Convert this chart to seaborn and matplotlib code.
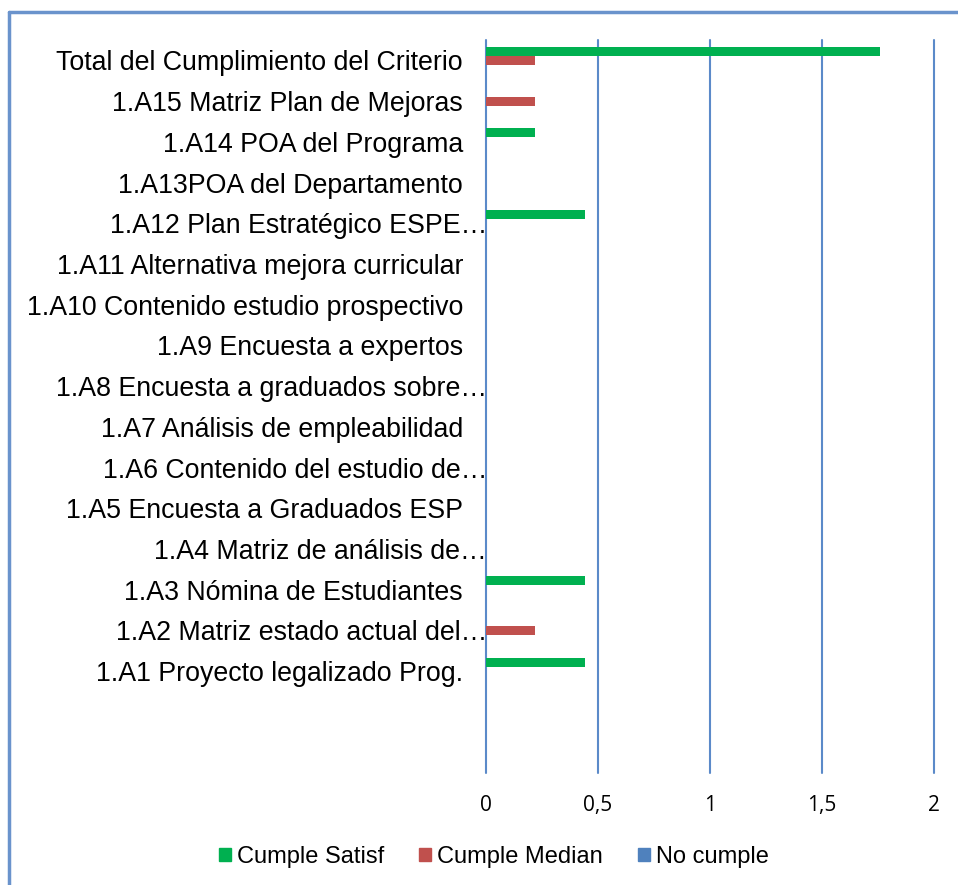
import pandas as pd
import matplotlib.pyplot as plt
import seaborn as sns
from matplotlib.patches import Rectangle
from matplotlib.transforms import ScaledTranslation

categorias = [
    "Total del Cumplimiento del Criterio",
    "1.A15 Matriz Plan de Mejoras",
    "1.A14 POA del Programa",
    "1.A13POA del Departamento",
    "1.A12 Plan Estratégico ESPE…",
    "1.A11 Alternativa mejora curricular",
    "1.A10 Contenido estudio prospectivo",
    "1.A9 Encuesta a expertos",
    "1.A8 Encuesta a graduados sobre…",
    "1.A7 Análisis de empleabilidad",
    "1.A6 Contenido del estudio de…",
    "1.A5 Encuesta a Graduados ESP",
    "1.A4 Matriz de análisis de…",
    "1.A3 Nómina de Estudiantes",
    "1.A2 Matriz estado actual del…",
    "1.A1 Proyecto legalizado Prog.",
    " ",
    "  ",
]
cumple_satisf = [1.76, 0, 0.22, 0, 0.44, 0, 0, 0, 0, 0, 0, 0, 0, 0.44, 0, 0.44, 0, 0]
cumple_median = [0.22, 0.22, 0, 0, 0, 0, 0, 0, 0, 0, 0, 0, 0, 0, 0.22, 0, 0, 0]
no_cumple = [0] * 18
series = ["Cumple Satisf", "Cumple Median", "No cumple"]
colores = ["#00B050", "#C0504D", "#4F81BD"]

df = pd.DataFrame({
    "cat": categorias * 3,
    "valor": cumple_satisf + cumple_median + no_cumple,
    "serie": [series[0]] * 18 + [series[1]] * 18 + [series[2]] * 18,
})

sns.set_style("white")
plt.rcParams["font.family"] = ["Liberation Sans", "DejaVu Sans"]
plt.rcParams["text.color"] = "black"
plt.rcParams["xtick.color"] = "black"
plt.rcParams["ytick.color"] = "black"

fig = plt.figure(figsize=(9.58, 8.85), dpi=100)
ax = fig.add_axes([486 / 958, 1 - 773 / 885, (934 - 486) / 958, (773 - 40) / 885])

sns.barplot(data=df, y="cat", x="valor", hue="serie", order=categorias,
            hue_order=series, palette=colores, orient="h", width=0.66,
            ax=ax, legend=False, saturation=1, linewidth=0)

ax.set_xlim(0, 2)
ax.set_ylim(len(categorias) - 0.5, -0.5)
ax.set_xticks([0, 0.5, 1, 1.5, 2])
ax.set_xticklabels(["0", "0,5", "1", "1,5", "2"], fontsize=15, family="Open Sans")
ax.tick_params(axis="x", length=0, pad=16)
ax.tick_params(axis="y", length=0, pad=16.5, labelsize=19.3)
ax.set_xlabel("")
ax.set_ylabel("")
for s in ax.spines.values():
    s.set_visible(False)
ax.xaxis.grid(True, color="#5B8AC9", linewidth=1.5)
for gl in ax.get_xgridlines():
    gl.set_clip_on(False)
ax.set_axisbelow(True)

# truncated labels run past the axis a little
for lab in ax.get_yticklabels():
    if lab.get_text().endswith("…"):
        lab.set_transform(lab.get_transform() + ScaledTranslation(0.24, 0, fig.dpi_scale_trans))

handles = [Rectangle((0, 0), 1, 1, color=c) for c in colores]
fig.legend(handles, series, loc="center", bbox_to_anchor=(494 / 958, 1 - 857 / 885),
           ncol=3, frameon=False, fontsize=17, handlelength=0.5, handleheight=0.5,
           handletextpad=0.25, columnspacing=1.5)

fig.add_artist(plt.Line2D([9 / 958, 9 / 958], [0, 1 - 12 / 885], transform=fig.transFigure,
                          color="#6A93CC", linewidth=2.5))
fig.add_artist(plt.Line2D([9 / 958, 1], [1 - 12 / 885, 1 - 12 / 885], transform=fig.transFigure,
                          color="#6A93CC", linewidth=2.5))

fig.savefig("out.png", dpi=100)
